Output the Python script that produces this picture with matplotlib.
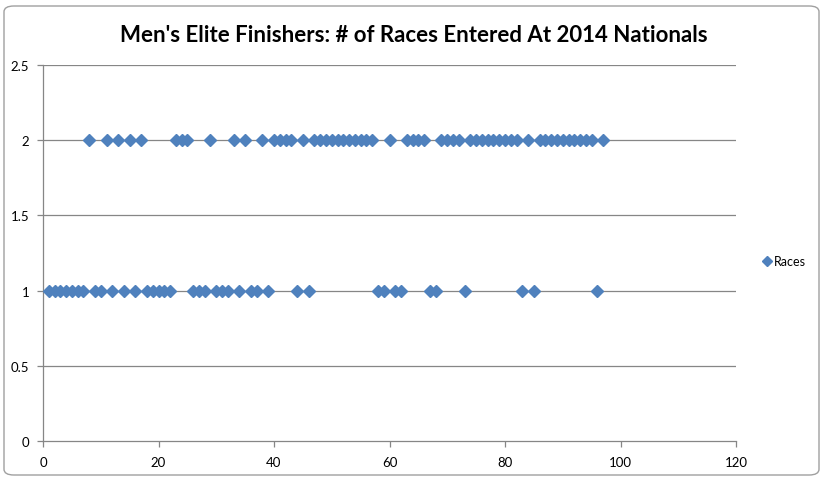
import matplotlib
matplotlib.use("Agg")
import matplotlib.pyplot as plt
from matplotlib.patches import FancyBboxPatch

plt.rcParams['font.family'] = ['Lato', 'DejaVu Sans']

# Finisher place (x) and number of races entered (y)
places = list(range(1, 98))
races = [1, 1, 1, 1, 1, 1, 1, 2, 1, 1,   # 1-10
         2, 1, 2, 1, 2, 1, 2, 1, 1, 1,   # 11-20
         1, 1, 2, 2, 2, 1, 1, 1, 2, 1,   # 21-30
         1, 1, 2, 1, 2, 1, 1, 2, 1, 2,   # 31-40
         2, 2, 2, 1, 2, 1, 2, 2, 2, 2,   # 41-50
         2, 2, 2, 2, 2, 2, 2, 1, 1, 2,   # 51-60
         1, 1, 2, 2, 2, 2, 1, 1, 2, 2,   # 61-70
         2, 2, 1, 2, 2, 2, 2, 2, 2, 2,   # 71-80
         2, 2, 1, 2, 1, 2, 2, 2, 2, 2,   # 81-90
         2, 2, 2, 2, 2, 1, 2]            # 91-97
series_name = "Races"
title = "Men's Elite Finishers: # of Races Entered At 2014 Nationals"
xticks = [0, 20, 40, 60, 80, 100, 120]
yticks = [0, 0.5, 1, 1.5, 2, 2.5]
ytick_labels = ["0", "0.5", "1", "1.5", "2", "2.5"]

W, H = 827, 481
fig = plt.figure(figsize=(W / 100, H / 100), dpi=100)
fig.patch.set_facecolor('white')

# chart border
border = FancyBboxPatch((4 / W, 5 / H), (W - 12) / W, (H - 12) / H,
                        boxstyle="round,pad=0,rounding_size=0.012",
                        transform=fig.transFigure, facecolor='none',
                        edgecolor='#A0A0A0', linewidth=1.0, zorder=-10)
fig.patches.append(border)

ax = fig.add_axes([43 / W, 1 - 442 / H, (736 - 43) / W, (442 - 66) / H])
ax.set_xlim(0, 120)
ax.set_ylim(0, 2.5)
ax.set_facecolor('none')

grid_c = '#868686'
for y in yticks[1:]:
    ax.axhline(y, color=grid_c, linewidth=0.9, zorder=1)
for s in ['top', 'right']:
    ax.spines[s].set_visible(False)
for s in ['left', 'bottom']:
    ax.spines[s].set_color(grid_c)
    ax.spines[s].set_linewidth(0.9)

ax.set_xticks(xticks)
ax.set_yticks(yticks)
ax.set_yticklabels(ytick_labels)
ax.tick_params(axis='both', direction='out', length=4, width=0.9, color=grid_c,
               labelsize=9.5, labelcolor='black')
ax.tick_params(axis='x', pad=7)
ax.tick_params(axis='y', pad=6)

ax.plot(places, races, linestyle='none', marker='D', markersize=6.2,
        color='#4F81BD', markeredgecolor='#4F81BD', label=series_name,
        zorder=3, clip_on=False)

fig.text(414 / W, 1 - 35 / H, title, ha='center', va='center',
         fontsize=16, fontweight='bold', color='black')

leg = fig.legend(loc='center left', bbox_to_anchor=(763 / W, 1 - 262 / H),
                 frameon=False, fontsize=9, handlelength=0.6,
                 handletextpad=0.3, borderaxespad=0, borderpad=0,
                 markerscale=0.8)

fig.savefig('out.png', dpi=100, facecolor='white')
